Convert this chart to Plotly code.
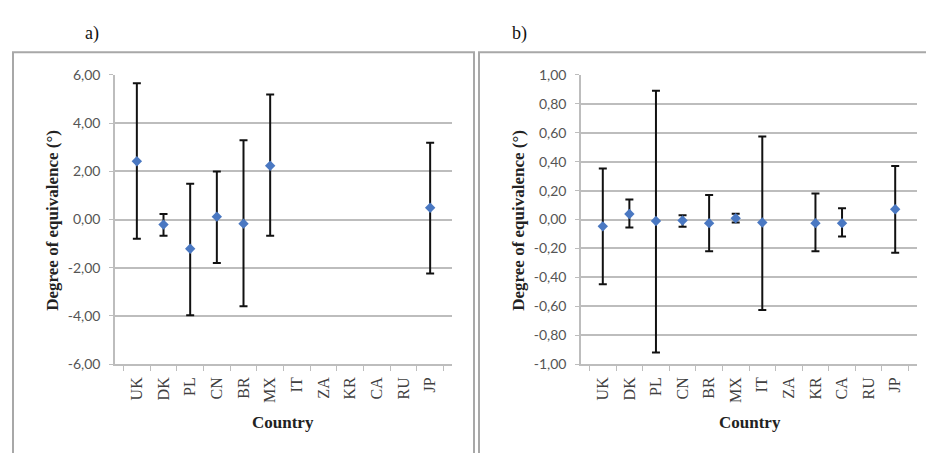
import plotly.graph_objects as go

countries = ["UK", "DK", "PL", "CN", "BR", "MX", "IT", "ZA", "KR", "CA", "RU", "JP"]

# Panel a) degree of equivalence and expanded uncertainty (upper / lower extents)
a_values = [2.42, -0.21, -1.21, 0.12, -0.17, 2.23, None, None, None, None, None, 0.49]
a_err_plus = [3.23, 0.44, 2.69, 1.87, 3.46, 2.96, None, None, None, None, None, 2.70]
a_err_minus = [3.22, 0.46, 2.76, 1.92, 3.43, 2.90, None, None, None, None, None, 2.73]

# Panel b)
b_values = [-0.047, 0.038, -0.01, -0.007, -0.025, 0.009, -0.02, None, -0.025, -0.025, None, 0.071]
b_err_plus = [0.40, 0.10, 0.90, 0.037, 0.195, 0.031, 0.595, None, 0.205, 0.103, None, 0.30]
b_err_minus = [0.40, 0.093, 0.91, 0.043, 0.195, 0.029, 0.605, None, 0.195, 0.093, None, 0.30]

a_ticks = [-6, -4, -2, 0, 2, 4, 6]
b_ticks = [-1.0, -0.8, -0.6, -0.4, -0.2, 0.0, 0.2, 0.4, 0.6, 0.8, 1.0]


def fmt(v):
    return f"{v:.2f}".replace(".", ",")


W, H = 926, 453
MARK = "#4A78C2"
GRID = "#BDBDBD"

fig = go.Figure()

fig.add_trace(go.Scatter(
    x=countries, y=a_values, mode="markers",
    marker=dict(symbol="diamond", size=8, color=MARK),
    error_y=dict(type="data", symmetric=False, array=a_err_plus, arrayminus=a_err_minus,
                 color="#111111", thickness=2, width=4),
    xaxis="x", yaxis="y", showlegend=False))

fig.add_trace(go.Scatter(
    x=countries, y=b_values, mode="markers",
    marker=dict(symbol="diamond", size=8, color=MARK),
    error_y=dict(type="data", symmetric=False, array=b_err_plus, arrayminus=b_err_minus,
                 color="#111111", thickness=2, width=4),
    xaxis="x2", yaxis="y2", showlegend=False))

ydom = [1 - 369 / H, 1 - 68.5 / H]
xtick_font = dict(family="Liberation Serif, Times New Roman, serif", size=16, color="#404040")
ytick_font = dict(family="Lato, Open Sans, sans-serif", size=14, color="#555555")

common_x = dict(type="category", categoryorder="array", categoryarray=countries,
                tickangle=-90, tickfont=xtick_font, showgrid=False,
                showline=True, linecolor=GRID, linewidth=1.5,
                ticks="outside", tickson="boundaries", ticklen=5, tickcolor=GRID,
                ticklabelstandoff=5, fixedrange=True)
common_y = dict(showgrid=True, gridcolor=GRID, gridwidth=1.5, zeroline=False,
                showline=True, linecolor=GRID, linewidth=1.5,
                ticks="outside", ticklen=4, tickcolor=GRID, tickfont=ytick_font,
                ticklabelstandoff=6, fixedrange=True)

fig.update_layout(
    width=W, height=H,
    margin=dict(l=0, r=0, t=0, b=0),
    paper_bgcolor="white", plot_bgcolor="white",
    xaxis=dict(domain=[115 / W, 452 / W], anchor="y", **common_x),
    yaxis=dict(domain=ydom, anchor="x", range=[-6, 6], tickvals=a_ticks,
               ticktext=[fmt(v) for v in a_ticks], **common_y),
    xaxis2=dict(domain=[581 / W, 917 / W], anchor="y2", **common_x),
    yaxis2=dict(domain=ydom, anchor="x2", range=[-1, 1], tickvals=b_ticks,
                ticktext=[fmt(v) for v in b_ticks], **common_y),
)

# panel frames
fig.add_shape(type="rect", xref="paper", yref="paper",
              x0=13 / W, x1=474 / W, y0=-0.05, y1=1 - 45 / H,
              line=dict(color="#A8A8A8", width=2))
fig.add_shape(type="rect", xref="paper", yref="paper",
              x0=479 / W, x1=1.05, y0=-0.05, y1=1 - 45 / H,
              line=dict(color="#A8A8A8", width=2))

title_font = dict(family="Liberation Serif, Times New Roman, serif", size=17, color="#222222")
ann = []
for label, xc in [("a)", 92), ("b)", 519)]:
    ann.append(dict(text=label, x=xc / W, y=1 - 25 / H, xref="paper", yref="paper",
                    xanchor="center", yanchor="middle", showarrow=False,
                    font=dict(family="Liberation Serif, serif", size=18, color="#111111")))
for xc in [53, 519]:
    ann.append(dict(text="<b>Degree of equivalence (°)</b>", x=xc / W, y=1 - 220 / H,
                    xref="paper", yref="paper", xanchor="center", yanchor="middle",
                    textangle=-90, showarrow=False, font=title_font))
for xc in [283, 750]:
    ann.append(dict(text="<b>Country</b>", x=xc / W, y=1 - 430 / H,
                    xref="paper", yref="paper", xanchor="center", yanchor="middle",
                    showarrow=False, font=title_font))
fig.update_layout(annotations=ann)

fig.write_html("out.html")
